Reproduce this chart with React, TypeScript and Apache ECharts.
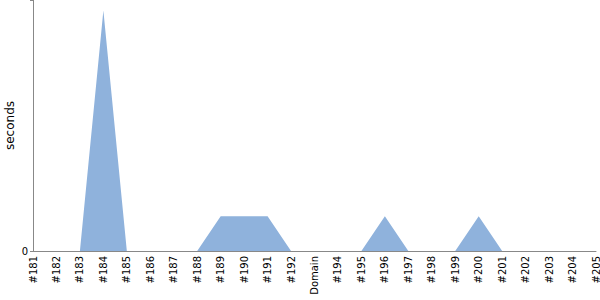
import React, { useEffect, useRef } from "react";
import * as echarts from "echarts";

const categories = [
  "#181", "#182", "#183", "#184", "#185", "#186", "#187", "#188", "#189", "#190",
  "#191", "#192", "Domain", "#194", "#195", "#196", "#197", "#198", "#199", "#200",
  "#201", "#202", "#203", "#204", "#205",
];
const seconds = [0, 0, 0, 6.9, 0, 0, 0, 0, 1, 1, 1, 0, 0, 0, 0, 1, 0, 0, 0, 1, 0, 0, 0, 0, 0];
const yMax = 7.2;
const FONT = "'DejaVu Sans', Verdana, sans-serif";

export default function App() {
  const ref = useRef<HTMLDivElement>(null);
  useEffect(() => {
    const chart = echarts.init(ref.current!, null, { renderer: "svg" });
    chart.setOption({
      animation: false,
      grid: { left: 33, right: 4, top: 0, bottom: 49, containLabel: false, outerBoundsMode: "none" },
      xAxis: {
        type: "category",
        data: categories,
        boundaryGap: false,
        axisLine: { lineStyle: { color: "#888", width: 1 } },
        axisTick: { show: false },
        axisLabel: {
          rotate: 90,
          interval: 0,
          margin: 5,
          color: "#000",
          fontFamily: FONT,
          fontSize: 10,
        },
        splitLine: { show: false },
      },
      yAxis: {
        type: "value",
        min: 0,
        max: yMax,
        interval: yMax,
        name: "seconds",
        nameLocation: "middle",
        nameGap: 17,
        nameMoveOverlap: false,
        nameTextStyle: { color: "#000", fontFamily: FONT, fontSize: 12 },
        axisLine: { show: true, lineStyle: { color: "#888", width: 1 } },
        axisTick: { show: true, length: 3, lineStyle: { color: "#888" } },
        axisLabel: {
          color: "#000",
          fontFamily: FONT,
          fontSize: 10,
          margin: 5,
          formatter: (v: number) => (v === 0 ? "0" : ""),
        },
        splitLine: { show: false },
      },
      series: [
        {
          type: "line",
          data: seconds,
          symbol: "none",
          lineStyle: { width: 0 },
          areaStyle: { color: "#8fb2dc", opacity: 1 },
        },
      ],
    });
    return () => chart.dispose();
  }, []);
  return <div ref={ref} style={{ width: 600, height: 300, position: "absolute", left: 0, top: 0 }} />;
}
